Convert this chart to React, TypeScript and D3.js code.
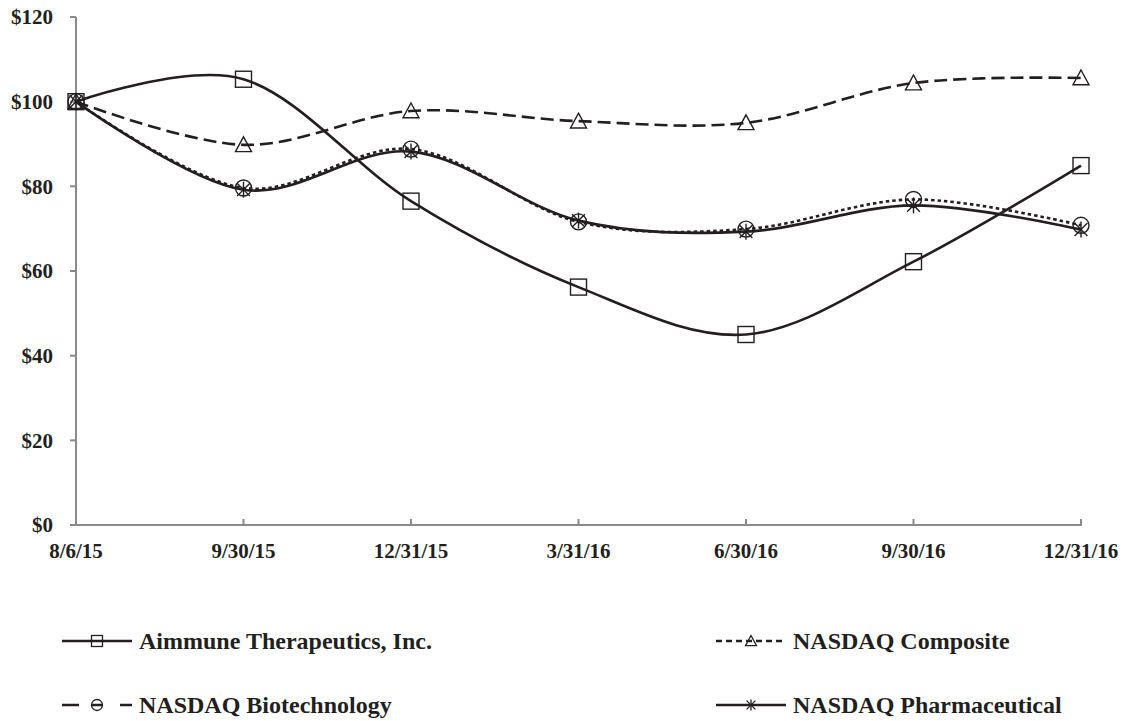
import React from 'react';
import * as d3 from 'd3';

const dates = ['8/6/15', '9/30/15', '12/31/15', '3/31/16', '6/30/16', '9/30/16', '12/31/16'];
const yTicks = [0, 20, 40, 60, 80, 100, 120];
const aimmune = [100, 105.3, 76.5, 56.2, 45.0, 62.2, 84.9];
const composite = [100, 89.8, 97.8, 95.4, 95.0, 104.4, 105.6];
const biotech = [100, 79.6, 88.8, 71.6, 69.9, 76.9, 70.8];
const pharma = [100, 79.2, 88.2, 71.9, 69.3, 75.5, 69.8];
const seriesNames = ['Aimmune Therapeutics, Inc.', 'NASDAQ Composite', 'NASDAQ Biotechnology', 'NASDAQ Pharmaceutical'];

const INK = '#231f20';
const AXIS = '#8a8a8c';
const FONT = '"Liberation Serif", "Times New Roman", Times, serif';

type MarkerKind = 'square' | 'triangle' | 'circle' | 'star';

function Marker({ kind, x, y, s, sw = 1.4, bar = false }: { kind: MarkerKind; x: number; y: number; s: number; sw?: number; bar?: boolean }) {
  const h = s / 2;
  if (kind === 'square') {
    return <rect x={x - h} y={y - h} width={s} height={s} fill="none" stroke={INK} strokeWidth={sw} />;
  }
  if (kind === 'triangle') {
    return <path d={`M${x},${y - h}L${x + h},${y + h * 0.85}L${x - h},${y + h * 0.85}Z`} fill="none" stroke={INK} strokeWidth={sw} />;
  }
  if (kind === 'circle') {
    return (
      <g>
        <circle cx={x} cy={y} r={h} fill="none" stroke={INK} strokeWidth={sw} />
        {bar && <line x1={x - h} x2={x + h} y1={y} y2={y} stroke={INK} strokeWidth={sw} />}
      </g>
    );
  }
  const d = h * 0.8;
  return (
    <g stroke={INK} strokeWidth={sw}>
      <line x1={x} x2={x} y1={y - h} y2={y + h} />
      <line x1={x - d} x2={x + d} y1={y - d} y2={y + d} />
      <line x1={x - d} x2={x + d} y1={y + d} y2={y - d} />
    </g>
  );
}

export default function App() {
  const x = d3.scalePoint<string>().domain(dates).range([76, 1081]);
  const y = d3.scaleLinear().domain([0, 120]).range([525, 17]);
  const line = d3
    .line<number>()
    .x((_, i) => x(dates[i]) as number)
    .y((v) => y(v))
    .curve(d3.curveCardinal.tension(0));

  const chartSeries: { data: number[]; dash?: string; marker: MarkerKind }[] = [
    { data: aimmune, marker: 'square' },
    { data: composite, dash: '13,6', marker: 'triangle' },
    { data: biotech, dash: '3.5,3', marker: 'circle' },
    { data: pharma, marker: 'star' },
  ];

  const legend: { name: string; x: number; y: number; dash?: string; marker: MarkerKind; bar?: boolean }[] = [
    { name: seriesNames[0], x: 62, y: 641, marker: 'square' },
    { name: seriesNames[1], x: 716, y: 641, dash: '6,4', marker: 'triangle' },
    { name: seriesNames[2], x: 62, y: 705, dash: '17,13,10,18,12', marker: 'circle', bar: true },
    { name: seriesNames[3], x: 716, y: 705, marker: 'star' },
  ];

  return (
    <svg width={1122} height={721} style={{ position: 'absolute', left: 0, top: 0, background: '#fff' }} fontFamily={FONT}>
      {/* axes */}
      <line x1={76} x2={76} y1={y(120)} y2={y(0)} stroke={AXIS} strokeWidth={2} />
      <line x1={70} x2={1082} y1={y(0)} y2={y(0)} stroke={AXIS} strokeWidth={2} />
      {yTicks.map((t) => (
        <g key={t}>
          <line x1={70} x2={76} y1={y(t)} y2={y(t)} stroke={AXIS} strokeWidth={2} />
          <text x={53} y={y(t)} dy="0.35em" textAnchor="end" fontSize={21} fontWeight="bold" fill={INK}>
            {`$${t}`}
          </text>
        </g>
      ))}
      {dates.map((dt) => (
        <g key={dt}>
          <line x1={x(dt)} x2={x(dt)} y1={y(0)} y2={y(0) - 6} stroke={AXIS} strokeWidth={2} />
          <text x={x(dt)} y={558} textAnchor="middle" fontSize={21} fontWeight="bold" fill={INK}>
            {dt}
          </text>
        </g>
      ))}
      {/* lines */}
      {chartSeries.map((s, i) => (
        <path key={i} d={line(s.data) || ''} fill="none" stroke={INK} strokeWidth={2.6} strokeDasharray={s.dash} />
      ))}
      {chartSeries.map((s, i) => (
        <g key={`m${i}`}>
          {s.data.map((v, j) => (
            <Marker key={j} kind={s.marker} x={x(dates[j]) as number} y={y(v)} s={16} />
          ))}
        </g>
      ))}
      {/* legend */}
      {legend.map((l) => (
        <g key={l.name}>
          <line x1={l.x} x2={l.x + 70} y1={l.y} y2={l.y} stroke={INK} strokeWidth={2.4} strokeDasharray={l.dash} />
          <Marker kind={l.marker} x={l.x + 35} y={l.y} s={11} sw={1.3} bar={l.bar} />
          <text x={l.x + 77} y={l.y} dy="0.35em" fontSize={24} fontWeight="bold" fill={INK}>
            {l.name}
          </text>
        </g>
      ))}
    </svg>
  );
}
